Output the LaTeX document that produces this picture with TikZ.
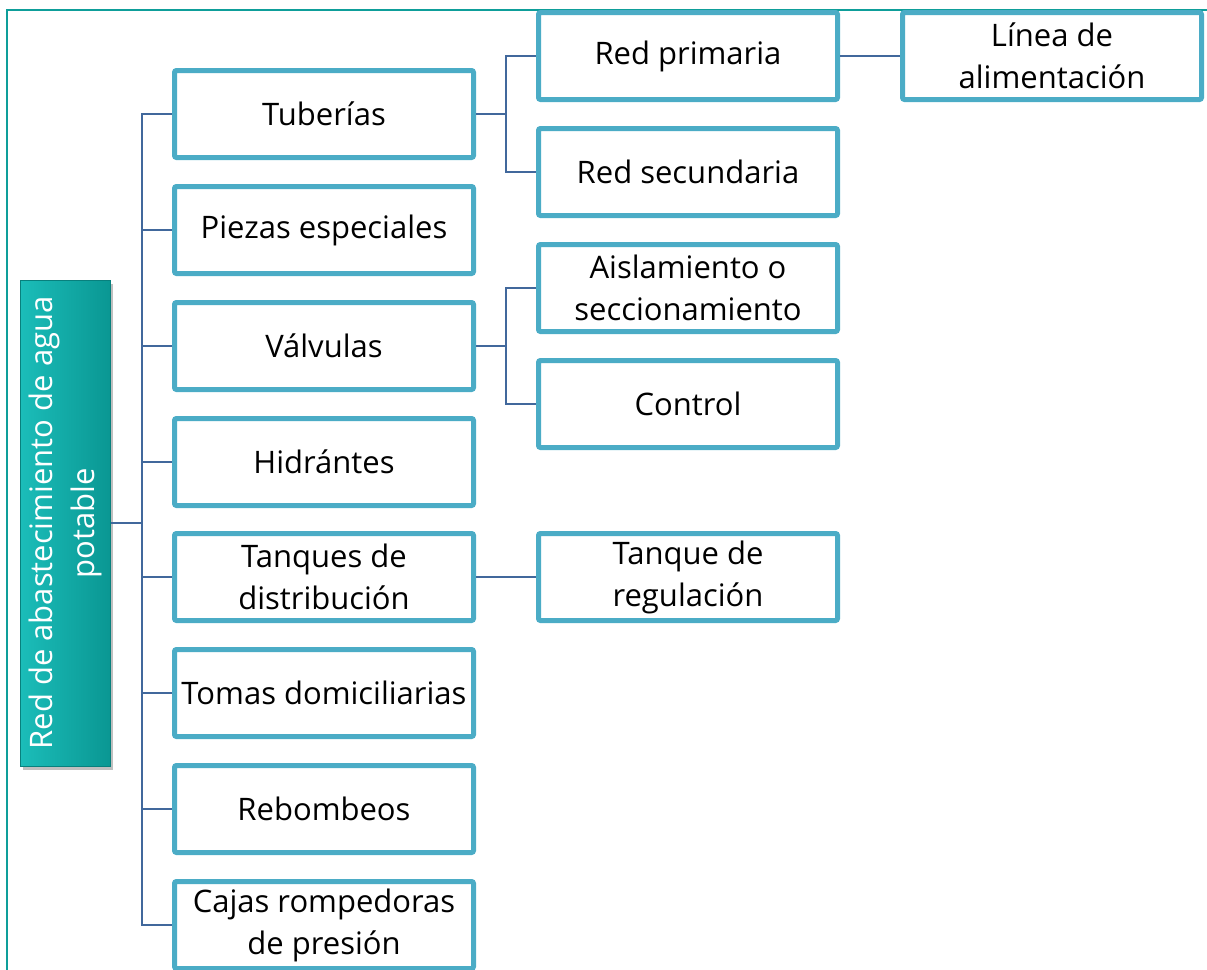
\documentclass[tikz,border=0pt]{standalone}
\usepackage{fontspec}
\setmainfont{Open Sans}
\definecolor{boxblue}{HTML}{4BACC6}
\definecolor{conn}{HTML}{41689C}
\definecolor{frameteal}{HTML}{0E9E9A}
\definecolor{rootL}{HTML}{1BBDB9}
\definecolor{rootR}{HTML}{0A9793}
\tikzset{
  box/.style={draw=boxblue, line width=5pt, fill=white, rounded corners=2pt,
    minimum width=299pt, minimum height=87pt, align=center, inner sep=2pt,
    font=\fontsize{31}{42}\selectfont, text=black},
  link/.style={draw=conn, line width=1.6pt},
  rootbox/.style={draw=rootR!85!black, line width=1pt, left color=rootL, right color=rootR,
    minimum width=486pt, minimum height=90pt, align=center, rotate=90, inner sep=1pt,
    font=\fontsize{31}{42}\selectfont, text=white},
  rootshadow/.style={fill=black, opacity=0.25, minimum width=90pt, minimum height=486pt, inner sep=0pt}
}
\begin{document}
\begin{tikzpicture}[x=1pt,y=-1pt]
\useasboundingbox (0,0) rectangle (1207,969);
\begin{scope}
\clip (0,0) rectangle (1207,969);
\draw[frameteal, line width=2pt] (7,980) -- (7,10) -- (1215,10);
% root
\node[rootshadow] (rsh) at (68,527) {};
\node[rootbox] (root) at (65,523) {Red de abastecimiento de agua\\potable};
% level 1
\node[box] (tub) at (324,114) {Tuberías};
\node[box] (pie) at (324,230) {Piezas especiales};
\node[box] (val) at (324,346) {Válvulas};
\node[box] (hid) at (324,462) {Hidrántes};
\node[box] (tan) at (324,577) {Tanques de\\distribución};
\node[box] (tom) at (324,693) {Tomas domiciliarias};
\node[box] (reb) at (324,809) {Rebombeos};
\node[box] (caj) at (324,925) {Cajas rompedoras\\de presión};
% level 2
\node[box] (rp) at (688,56) {Red primaria};
\node[box] (rs) at (688,172) {Red secundaria};
\node[box] (ais) at (688,288) {Aislamiento o\\seccionamiento};
\node[box] (con) at (688,404) {Control};
\node[box] (treg) at (688,577) {Tanque de\\regulación};
% level 3
\node[box] (lin) at (1052,56) {Línea de\\alimentación};
% connectors
\coordinate (b1) at (142,523);
\draw[link] (root.south) -- (b1);
\foreach \n in {tub,pie,val,hid,tan,tom,reb,caj}{
  \draw[link] (b1) |- (\n.west);
}
\coordinate (b2) at (506,114);
\draw[link] (tub.east) -- (b2);
\draw[link] (b2) |- (rp.west);
\draw[link] (b2) |- (rs.west);
\coordinate (b3) at (506,346);
\draw[link] (val.east) -- (b3);
\draw[link] (b3) |- (ais.west);
\draw[link] (b3) |- (con.west);
\draw[link] (tan.east) -- (treg.west);
\draw[link] (rp.east) -- (lin.west);
\end{scope}
\end{tikzpicture}
\end{document}
